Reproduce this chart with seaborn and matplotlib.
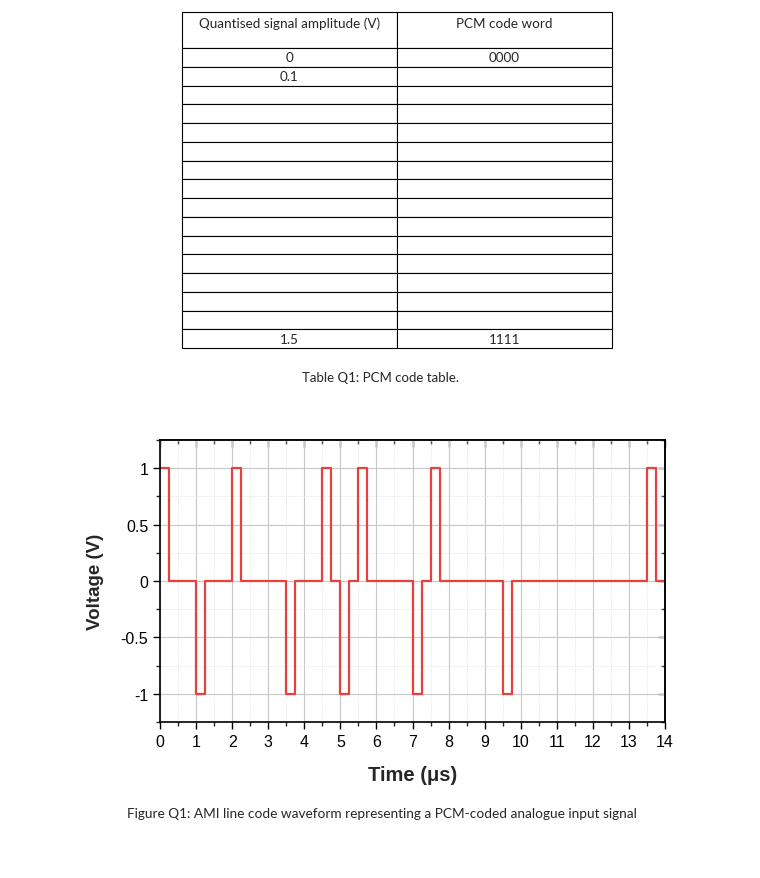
import matplotlib
matplotlib.use("Agg")
import matplotlib.pyplot as plt
from matplotlib.ticker import MultipleLocator
import seaborn as sns
import pandas as pd

# ---- data ----
amplitudes = ["0", "0.1"] + [""] * 13 + ["1.5"]
code_words = ["0000"] + [""] * 14 + ["1111"]
col_labels = ["Quantised signal amplitude (V)", "PCM code word"]

time_us = [0, 0.25, 1, 1.25, 2, 2.25, 3.5, 3.75, 4.5, 4.75, 5, 5.25, 5.5, 5.75,
           7, 7.25, 7.5, 7.75, 9.5, 9.75, 13.5, 13.75, 14]
voltage = [1, 0, -1, 0, 1, 0, -1, 0, 1, 0, -1, 0, 1, 0,
           -1, 0, 1, 0, -1, 0, 1, 0, 0]

x_ticks = list(range(0, 15))
y_ticks = [-1, -0.5, 0, 0.5, 1]
y_tick_labels = ["-1", "-0.5", "0", "0.5", "1"]

sns.set_theme(style="white")
plt.rcParams["font.family"] = ["Liberation Sans", "DejaVu Sans"]

fig = plt.figure(figsize=(7.6, 8.79), dpi=100)

# ---- table ----
tab_font = ["Lato", "DejaVu Sans"]
tax = fig.add_axes([182 / 760, 1 - 349 / 879, (612 - 182) / 760, (349 - 13) / 879])
tax.axis("off")
cell_text = [[a, c] for a, c in zip(amplitudes, code_words)]
tbl = tax.table(cellText=cell_text, colLabels=[l + "\n" for l in col_labels],
                cellLoc="center", bbox=[0, 0, 1, 1])
tbl.auto_set_font_size(False)
tbl.set_fontsize(9.7)
for (r, c), cell in tbl.get_celld().items():
    cell.set_edgecolor("black")
    cell.set_linewidth(0.8)
    cell.get_text().set_fontfamily(tab_font)
    if r == 0:
        cell.set_height(36)
    else:
        cell.set_height(18.75)
        cell.get_text().set_va("center")

fig.text(380 / 760, 1 - 378 / 879, "Table Q1: PCM code table.", ha="center", va="center",
         fontsize=9.5, family=tab_font)

# ---- waveform ----
ax = fig.add_axes([160 / 760, 1 - 723 / 879, (665 - 160) / 760, (723 - 441) / 879])
df = pd.DataFrame({"Time": time_us, "Voltage": voltage})
sns.lineplot(data=df, x="Time", y="Voltage", drawstyle="steps-post", color="#EA3F3F",
             linewidth=1.6, ax=ax)
ax.set_xlim(0, 14)
ax.set_ylim(-1.25, 1.25)
ax.set_xticks(x_ticks)
ax.set_yticks(y_ticks)
ax.set_yticklabels(y_tick_labels)
ax.xaxis.set_minor_locator(MultipleLocator(0.5))
ax.yaxis.set_minor_locator(MultipleLocator(0.25))
ax.grid(which="major", color="#c8c8c8", linewidth=0.8, linestyle="-")
ax.grid(which="minor", color="#dcdcdc", linewidth=0.6, linestyle=":")
ax.set_axisbelow(True)
for s in ax.spines.values():
    s.set_visible(True)
    s.set_color("black")
    s.set_linewidth(1.2)
ax.tick_params(which="major", direction="out", length=5, width=1, labelsize=11.5,
               colors="black", bottom=True, left=True)
ax.tick_params(which="minor", direction="out", length=3, width=1, bottom=True, left=True)
ax.set_xlabel("Time (μs)", fontsize=14.5, fontweight="bold", labelpad=12)
ax.set_ylabel("Voltage (V)", fontsize=13.5, fontweight="bold", labelpad=12)

top = ax.secondary_xaxis("top")
top.set_xticks(x_ticks)
top.xaxis.set_minor_locator(MultipleLocator(0.5))
top.tick_params(which="major", direction="in", length=5, width=1, labeltop=False)
top.tick_params(which="minor", direction="in", length=3, width=1)
right = ax.secondary_yaxis("right")
right.set_yticks(y_ticks)
right.yaxis.set_minor_locator(MultipleLocator(0.25))
right.tick_params(which="major", direction="in", length=5, width=1, labelright=False)
right.tick_params(which="minor", direction="in", length=3, width=1)

fig.text(127 / 760, 1 - 814 / 879,
         "Figure Q1: AMI line code waveform representing a PCM-coded analogue input signal",
         ha="left", va="center", fontsize=9.8, family=tab_font)

fig.savefig("out.png", dpi=100)
